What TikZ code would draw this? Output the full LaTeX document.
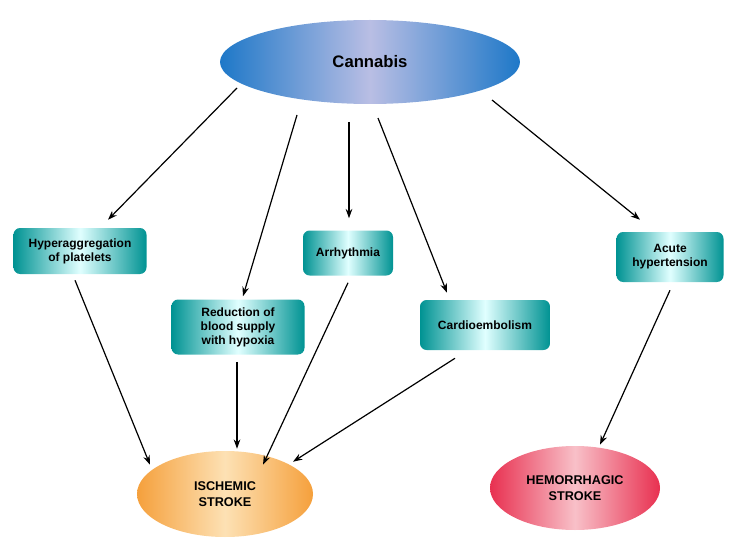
\documentclass[tikz,border=0pt]{standalone}
\usepackage{fontspec}
\setmainfont{Liberation Sans}
\usetikzlibrary{shapes.geometric,calc,arrows.meta}
\begin{document}
\begin{tikzpicture}[x=0.75pt,y=-0.75pt,
  box/.style={rectangle,rounded corners=5pt,left color=teal!85!cyan,right color=teal!85!cyan,middle color=cyan!12,
    font=\bfseries\fontsize{9}{10.5}\selectfont,align=center,inner sep=2pt},
  ell/.style={ellipse,inner sep=0pt,font=\bfseries\fontsize{9.5}{11.5}\selectfont,align=center},
  arr/.style={-{Stealth[length=7pt,width=5pt]},line width=0.9pt,black}]
\useasboundingbox (0,0) rectangle (742,549);
\node[ell,minimum width=300pt*0.75,minimum height=84pt*0.75,left color={rgb,255:red,30;green,120;blue,200},right color={rgb,255:red,30;green,120;blue,200},middle color={rgb,255:red,185;green,190;blue,228},font=\bfseries\fontsize{12.5}{14}\selectfont] (cann) at (370,62) {Cannabis};
\node[box,minimum width=133*0.75pt,minimum height=46*0.75pt] (hyper) at (80,251) {Hyperaggregation\\of platelets};
\node[box,minimum width=133*0.75pt,minimum height=55*0.75pt] (red) at (238,327) {Reduction of\\blood supply\\with hypoxia};
\node[box,minimum width=90*0.75pt,minimum height=45*0.75pt] (arr) at (348,253) {Arrhythmia};
\node[box,minimum width=130*0.75pt,minimum height=50*0.75pt] (card) at (485,325) {Cardioembolism};
\node[box,minimum width=107*0.75pt,minimum height=50*0.75pt] (acute) at (670,257) {Acute\\hypertension};
\node[ell,minimum width=176*0.75pt,minimum height=86*0.75pt,left color={rgb,255:red,245;green,160;blue,60},right color={rgb,255:red,245;green,160;blue,60},middle color={rgb,255:red,253;green,225;blue,180}] (isch) at (225,494) {ISCHEMIC\\STROKE};
\node[ell,minimum width=170*0.75pt,minimum height=84*0.75pt,left color={rgb,255:red,232;green,48;blue,80},right color={rgb,255:red,232;green,48;blue,80},middle color={rgb,255:red,248;green,192;blue,200}] (hem) at (575,488) {HEMORRHAGIC\\STROKE};
\draw[arr] ($(cann.center)+(-133,26)$) -- ($(hyper.north)+(28,-8)$);
\draw[arr] ($(cann.center)+(-73,53)$) -- ($(red.north)+(5,-3)$);
\draw[arr] ($(cann.center)+(-21,60)$) -- ($(arr.north)+(1,-12)$);
\draw[arr] ($(cann.center)+(8,56)$) -- ($(card.north)+(-38,-7)$);
\draw[arr] ($(cann.center)+(122,38)$) -- ($(acute.north)+(-30,-12)$);
\draw[arr] ($(hyper.south)+(-5,6)$) -- ($(isch.north)+(-75,14)$);
\draw[arr] ($(red.south)+(-1,7)$) -- ($(isch.north)+(12,-2)$);
\draw[arr] ($(arr.south)+(0,7)$) -- ($(isch.north)+(38,14)$);
\draw[arr] ($(card.south)+(-30,8)$) -- ($(isch.north)+(68,11)$);
\draw[arr] ($(acute.south)+(0,8)$) -- ($(hem.north)+(25,-1)$);
\end{tikzpicture}
\end{document}
